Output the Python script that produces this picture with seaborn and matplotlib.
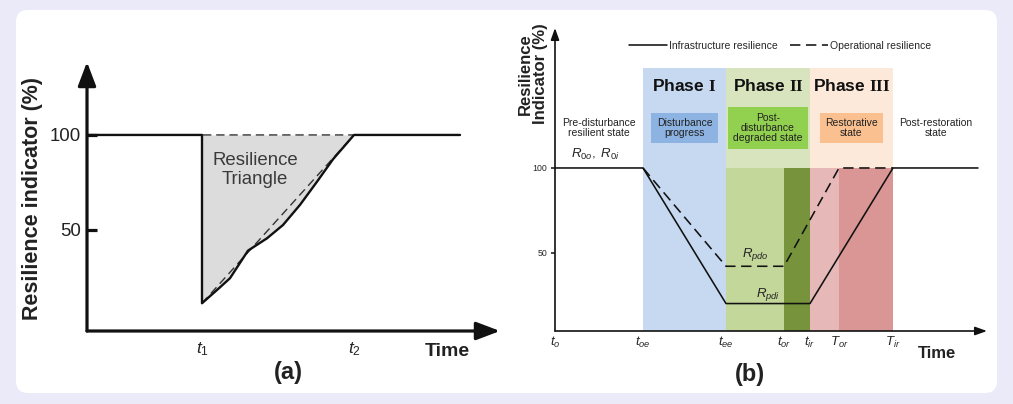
import numpy as np
import pandas as pd
import matplotlib
matplotlib.use("Agg")
import matplotlib.pyplot as plt
import seaborn as sns
from matplotlib.patches import FancyBboxPatch
from matplotlib.transforms import IdentityTransform

# ---------------- data: panel (a) ----------------
a_time = [0, 11.5, 11.5, 13.3, 14.3, 16.1, 18.0, 19.6, 21.3, 23.0, 24.6, 26.7, 37.3]
a_resilience = [100, 100, 11.4, 19.8, 24.6, 39.1, 45.6, 52.6, 63.2, 75.4, 87.2, 100, 100]
a_triangle_time = [11.5, 26.7, 11.5, 11.5]
a_triangle_res = [11.4, 100, 100, 11.4]
a_xticks = [11.5, 26.7]
a_xtick_labels = [r"$t_\mathit{1}$", r"$t_\mathit{2}$"]
a_yticks = [50, 100]
a_ytick_labels = ["50", "100"]

# ---------------- data: panel (b) ----------------
b_infra_time = [0, 8.8, 17.1, 25.5, 33.8, 42.3]
b_infra_res = [100, 100, 20, 20, 100, 100]
b_oper_time = [8.8, 17.1, 22.9, 28.4, 33.8]
b_oper_res = [100, 42, 42, 100, 100]
b_xticks = [0, 8.8, 17.1, 22.9, 25.5, 28.4, 33.8]
b_xtick_labels = [r"$t_o$", r"$t_{oe}$", r"$t_{ee}$", r"$t_{or}$", r"$t_{ir}$", r"$T_{or}$", r"$T_{ir}$"]
b_yticks = [50, 100]
b_ytick_labels = ["50", "100"]
phase_names = [r"Phase $\mathbf{I}$", r"Phase $\mathbf{II}$", r"Phase $\mathbf{III}$"]
phase_start = [8.8, 17.1, 25.5]
phase_end = [17.1, 25.5, 33.8]
phase_top = 159
phase_colors = ["#C6D9F1", "#D8E4BE", "#FDE9D9"]
phase_boxes = ["Disturbance\nprogress", "Post-\ndisturbance\ndegraded state", "Restorative\nstate"]
phase_box_colors = ["#8DB3E2", "#92D050", "#FAC090"]
sub_start = [17.1, 22.9, 25.5, 28.4]
sub_end = [22.9, 25.5, 28.4, 33.8]
sub_top = 100
sub_colors = ["#C4D79B", "#77933C", "#E6B9B8", "#DA9694"]

# ---------------- figure ----------------
W, H = 1013, 404
sns.set_theme(style="white")
plt.rcParams["font.family"] = ["Liberation Sans", "DejaVu Sans"]
plt.rcParams["mathtext.fontset"] = "custom"
plt.rcParams["mathtext.it"] = "Liberation Sans:italic"
plt.rcParams["mathtext.rm"] = "Liberation Sans"
plt.rcParams["mathtext.bf"] = "Liberation Serif:bold"

fig = plt.figure(figsize=(W / 100, H / 100), dpi=100, facecolor="#EAEAF9")
fig.patches.append(FancyBboxPatch((16, H - 393), 981, 383,
                                  boxstyle="round,pad=0,rounding_size=12",
                                  transform=IdentityTransform(), facecolor="white",
                                  edgecolor="none", zorder=-10))


def add_ax(x0, y0, x1, y1):
    return fig.add_axes([x0 / W, 1 - y1 / H, (x1 - x0) / W, (y1 - y0) / H])


def fxy(px, py):
    return px / W, 1 - py / H


# ---------------- panel (a) ----------------
axa = add_ax(87, 62, 500, 331)
axa.set_facecolor("none")
axa.set_xlim(0, 41.3)
axa.set_ylim(-3.2, 138.4)
for s in axa.spines.values():
    s.set_visible(False)

curve_t = a_time[2:12]
curve_v = a_resilience[2:12]
axa.fill_between(curve_t, curve_v, 100, color="#DCDCDC", lw=0, zorder=1)
sns.lineplot(x=a_triangle_time, y=a_triangle_res, sort=False, estimator=None, ax=axa,
             color="#333333", lw=1.0, linestyle=(0, (6, 3.5)), zorder=2)
sns.lineplot(x=a_time, y=a_resilience, sort=False, estimator=None, ax=axa,
             color="#111111", lw=1.7, zorder=3)

arrow_a = dict(arrowstyle="-|>,head_length=1.45,head_width=0.55", lw=2.3, color="#111111",
               shrinkA=0, shrinkB=0, mutation_scale=10)
axa.annotate("", xy=(1, 0), xytext=(0, 0), xycoords="axes fraction", arrowprops=arrow_a)
axa.annotate("", xy=(0, 1), xytext=(0, 0), xycoords="axes fraction", arrowprops=arrow_a)

axa.set_xticks(a_xticks)
axa.set_xticklabels(a_xtick_labels, fontsize=12.5)
axa.set_yticks(a_yticks)
axa.set_yticklabels(a_ytick_labels, fontsize=13.4, color="#222222")
axa.tick_params(axis="x", length=0, pad=7)
axa.tick_params(axis="y", direction="in", length=7, width=2.3, color="#111111", pad=4.5, left=True)
axa.set_xlabel("")
axa.set_ylabel("")

fig.text(*fxy(33, 198.5), "Resilience indicator (%)", rotation=90, ha="center", va="center",
         fontsize=15.5, fontweight="bold", color="#222222")
fig.text(*fxy(447, 352), "Time", ha="center", va="center", fontsize=14, fontweight="bold",
         color="#222222")
fig.text(*fxy(288, 373), "(a)", ha="center", va="center", fontsize=17, fontweight="bold",
         color="#222222")
axa.text(16.8, 81.5, "Resilience\nTriangle", ha="center",
         va="center", fontsize=13.4, color="#3A3A3A", zorder=4)

# ---------------- panel (b) ----------------
axb = add_ax(555, 28, 987, 331)
axb.set_facecolor("none")
axb.set_xlim(0, 43.2)
axb.set_ylim(3.8, 182.6)
for s in axb.spines.values():
    s.set_visible(False)

axb.bar(phase_start, [phase_top] * 3, width=np.subtract(phase_end, phase_start), bottom=0,
        align="edge", color=phase_colors, lw=0, zorder=0)
axb.bar(sub_start, [sub_top] * 4, width=np.subtract(sub_end, sub_start), bottom=0,
        align="edge", color=sub_colors, lw=0, zorder=0.5)

sns.lineplot(x=b_infra_time, y=b_infra_res, sort=False, estimator=None, ax=axb,
             color="#111111", lw=1.15, zorder=3, label="Infrastructure resilience")
sns.lineplot(x=b_oper_time, y=b_oper_res, sort=False, estimator=None, ax=axb,
             color="#111111", lw=1.15, linestyle=(0, (6.5, 3.5)), zorder=3,
             label="Operational resilience")

leg = axb.legend(loc="center", bbox_to_anchor=fxy(780, 46), bbox_transform=fig.transFigure,
                 ncol=2, frameon=False, fontsize=7.5, handlelength=3.7, handletextpad=0.2,
                 columnspacing=1.1, borderaxespad=0, borderpad=0)

arrow_b = dict(arrowstyle="-|>,head_length=0.7,head_width=0.25", lw=1.2, color="#111111",
               shrinkA=0, shrinkB=0, mutation_scale=10)
axb.annotate("", xy=(1, 0), xytext=(0, 0), xycoords="axes fraction", arrowprops=arrow_b)
axb.annotate("", xy=(0, 1), xytext=(0, 0), xycoords="axes fraction", arrowprops=arrow_b)

axb.set_xticks(b_xticks)
axb.set_xticklabels(b_xtick_labels, fontsize=9.5)
axb.set_yticks(b_yticks)
axb.set_yticklabels(b_ytick_labels, fontsize=6.3)
axb.tick_params(axis="x", length=0, pad=2.5)
axb.tick_params(axis="y", direction="out", length=3, width=1.1, color="#111111", pad=2.5, left=True)
axb.set_xlabel("")
axb.set_ylabel("")

for name, x0, x1, box, bc in zip(phase_names, phase_start, phase_end, phase_boxes, phase_box_colors):
    xc = 0.5 * (x0 + x1)
    axb.text(xc, 148.4, name, ha="center", va="center", fontsize=12.5, fontweight="bold",
             color="#111111", zorder=4)
    axb.text(xc, 123.6, box, ha="center", va="center", fontsize=7.5, color="#222222",
             linespacing=1.05, zorder=4,
             bbox=dict(boxstyle="square,pad=0.5", facecolor=bc, edgecolor="none"))

axb.text(4.4, 123.6, "Pre-disturbance\nresilient state", ha="center", va="center",
         fontsize=7.5, color="#222222", linespacing=1.05)
axb.text(38.1, 123.6, "Post-restoration\nstate", ha="center", va="center",
         fontsize=7.5, color="#222222", linespacing=1.05)
axb.text(4.0, 107.7, r"$R_{0o},\ R_{0i}$", ha="center", va="center", fontsize=9.5,
         color="#222222")
axb.text(20.0, 49.2, r"$R_{pdo}$", ha="center", va="center", fontsize=9.5, color="#222222",
         zorder=4)
axb.text(21.3, 25.6, r"$R_{pdi}$", ha="center", va="center", fontsize=9.5, color="#222222",
         zorder=4)

fig.text(*fxy(533, 74), "Resilience\nIndicator (%)", rotation=90, ha="center", va="center",
         fontsize=12, fontweight="bold", color="#222222", linespacing=0.95)
fig.text(*fxy(937, 353), "Time", ha="center", va="center", fontsize=12, fontweight="bold",
         color="#222222")
fig.text(*fxy(750, 374), "(b)", ha="center", va="center", fontsize=17, fontweight="bold",
         color="#222222")

fig.savefig("out.png", dpi=100, facecolor=fig.get_facecolor())
